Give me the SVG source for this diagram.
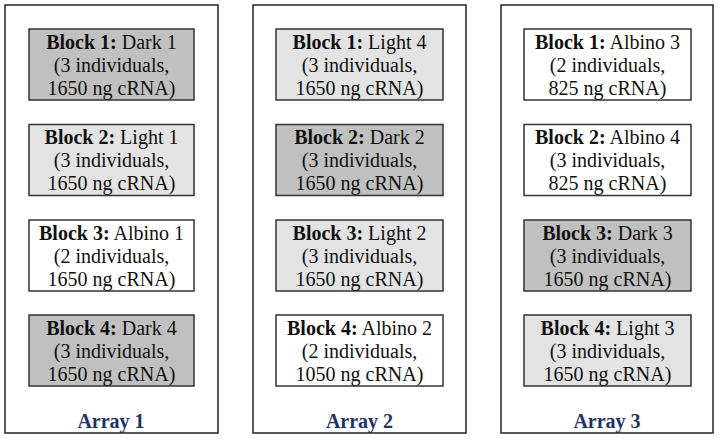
<svg xmlns="http://www.w3.org/2000/svg" width="719" height="439" viewBox="0 0 719 439">
<style>
.arr{fill:#fff;stroke:#222;stroke-width:1.5}
.blk{stroke:#333;stroke-width:1.5}
.dark{fill:#c0c0c0}
.light{fill:#e3e3e3}
.white{fill:#fff}
text{font-family:"Liberation Serif","Times New Roman",serif;font-size:20px;fill:#111;text-anchor:middle}
.b{font-weight:bold}
.lbl{font-weight:bold;font-size:20px;fill:#1f3366}
</style>
<rect width="719" height="439" fill="#fff"/>
<g id="array1">
<rect class="arr" x="5" y="5" width="213" height="428"/>
<text class="lbl" x="111" y="428">Array 1</text>
</g>
<g id="array2">
<rect class="arr" x="253" y="5" width="213" height="428"/>
<text class="lbl" x="359.5" y="428">Array 2</text>
</g>
<g id="array3">
<rect class="arr" x="501" y="5" width="212" height="428"/>
<text class="lbl" x="607" y="428">Array 3</text>
</g>
<g id="connectors"></g>
<g id="a1b1"><rect class="blk dark" x="29" y="29" width="165" height="71"/><text x="111.5" y="48.5"><tspan class="b">Block 1:</tspan> Dark 1</text><text x="111.5" y="71.5">(3 individuals,</text><text x="111.5" y="94.5">1650 ng cRNA)</text></g>
<g id="a1b2"><rect class="blk light" x="29" y="124.5" width="165" height="71"/><text x="111.5" y="144"><tspan class="b">Block 2:</tspan> Light 1</text><text x="111.5" y="167">(3 individuals,</text><text x="111.5" y="190">1650 ng cRNA)</text></g>
<g id="a1b3"><rect class="blk white" x="29" y="220" width="165" height="71"/><text x="111.5" y="239.5"><tspan class="b">Block 3:</tspan> Albino 1</text><text x="111.5" y="262.5">(2 individuals,</text><text x="111.5" y="285.5">1650 ng cRNA)</text></g>
<g id="a1b4"><rect class="blk dark" x="29" y="315" width="165" height="71"/><text x="111.5" y="334.5"><tspan class="b">Block 4:</tspan> Dark 4</text><text x="111.5" y="357.5">(3 individuals,</text><text x="111.5" y="380.5">1650 ng cRNA)</text></g>
<g id="a2b1"><rect class="blk light" x="276" y="29" width="167" height="71"/><text x="359.5" y="48.5"><tspan class="b">Block 1:</tspan> Light 4</text><text x="359.5" y="71.5">(3 individuals,</text><text x="359.5" y="94.5">1650 ng cRNA)</text></g>
<g id="a2b2"><rect class="blk dark" x="276" y="124.5" width="167" height="71"/><text x="359.5" y="144"><tspan class="b">Block 2:</tspan> Dark 2</text><text x="359.5" y="167">(3 individuals,</text><text x="359.5" y="190">1650 ng cRNA)</text></g>
<g id="a2b3"><rect class="blk light" x="276" y="220" width="167" height="71"/><text x="359.5" y="239.5"><tspan class="b">Block 3:</tspan> Light 2</text><text x="359.5" y="262.5">(3 individuals,</text><text x="359.5" y="285.5">1650 ng cRNA)</text></g>
<g id="a2b4"><rect class="blk white" x="276" y="315" width="167" height="71"/><text x="359.5" y="334.5"><tspan class="b">Block 4:</tspan> Albino 2</text><text x="359.5" y="357.5">(2 individuals,</text><text x="359.5" y="380.5">1050 ng cRNA)</text></g>
<g id="a3b1"><rect class="blk white" x="524" y="29" width="167" height="71"/><text x="607.5" y="48.5"><tspan class="b">Block 1:</tspan> Albino 3</text><text x="607.5" y="71.5">(2 individuals,</text><text x="607.5" y="94.5">825 ng cRNA)</text></g>
<g id="a3b2"><rect class="blk white" x="524" y="124.5" width="167" height="71"/><text x="607.5" y="144"><tspan class="b">Block 2:</tspan> Albino 4</text><text x="607.5" y="167">(3 individuals,</text><text x="607.5" y="190">825 ng cRNA)</text></g>
<g id="a3b3"><rect class="blk dark" x="524" y="220" width="167" height="71"/><text x="607.5" y="239.5"><tspan class="b">Block 3:</tspan> Dark 3</text><text x="607.5" y="262.5">(3 individuals,</text><text x="607.5" y="285.5">1650 ng cRNA)</text></g>
<g id="a3b4"><rect class="blk light" x="524" y="315" width="167" height="71"/><text x="607.5" y="334.5"><tspan class="b">Block 4:</tspan> Light 3</text><text x="607.5" y="357.5">(3 individuals,</text><text x="607.5" y="380.5">1650 ng cRNA)</text></g>
</svg>
